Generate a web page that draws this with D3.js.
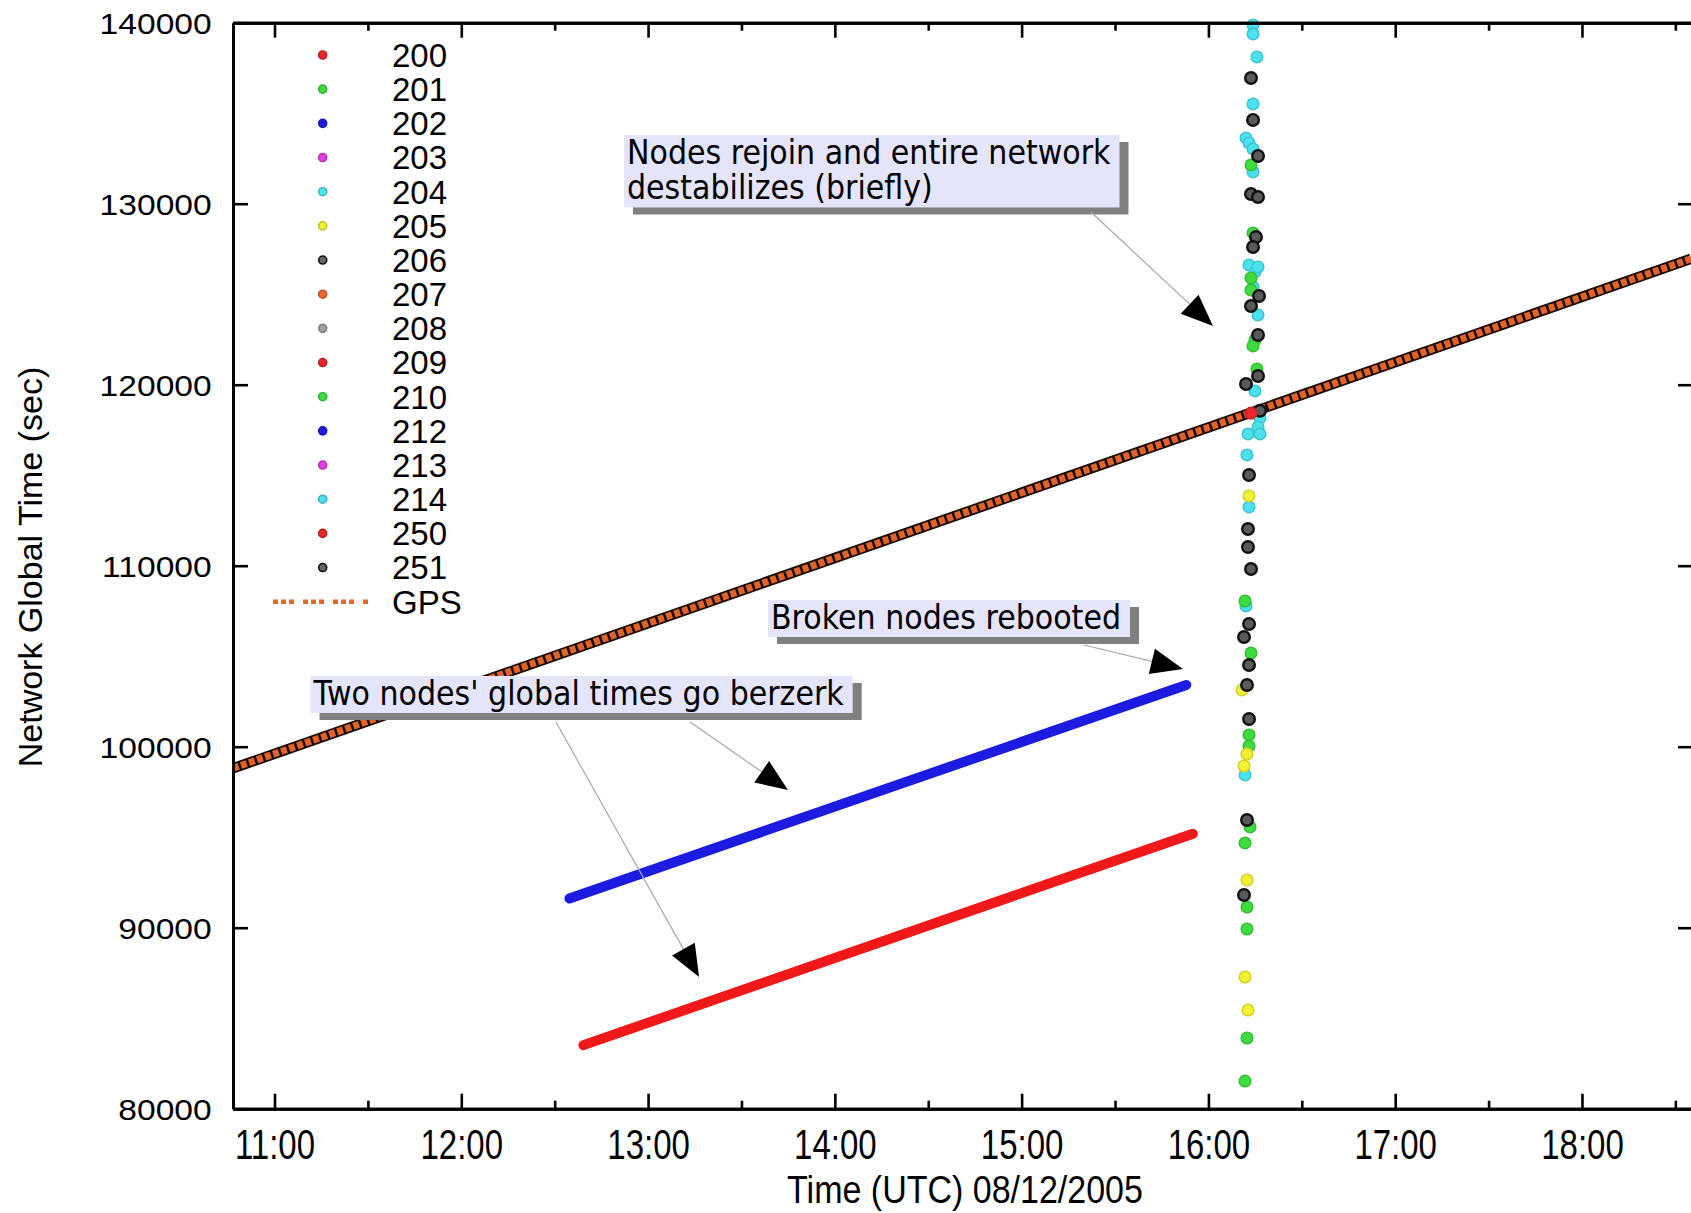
<!DOCTYPE html>
<html>
<head>
<meta charset="utf-8">
<script src="https://cdn.jsdelivr.net/npm/d3@7"></script>
<style>
  html, body { margin: 0; padding: 0; background: #ffffff; }
  svg { display: block; }
</style>
</head>
<body>
<svg id="chart" width="1691" height="1213"></svg>
<script>
// ---------------- DATA ----------------
const xTickLabels = ["11:00", "12:00", "13:00", "14:00", "15:00", "16:00", "17:00", "18:00"];
const xMinorLabels = ["11:30", "12:30", "13:30", "14:30", "15:30", "16:30", "17:30", "18:30"];
const xRange = ["10:46:40", "18:35:40"];
const yTickValues = [80000, 90000, 100000, 110000, 120000, 130000, 140000];
const legendNodes = ["200", "201", "202", "203", "204", "205", "206", "207", "208", "209", "210", "212", "213", "214", "250", "251"];

// GPS reference track (time, network global time in s)
const gpsTrack = [["10:46:40", 98807], ["18:35:02", 126957]];
// the two nodes that "go berzerk"
const node212Track = [["12:34:44", 91617], ["15:52:54", 103413]];
const node209Track = [["12:39:14", 83512], ["15:55:00", 95192]];

// burst of points when the nodes rejoin (~16:12)
const node204Burst = [["16:14:20",139874],["16:14:20",139377],["16:15:36",138106],["16:14:20",135510],["16:12:05",133631],["16:13:03",133355],["16:14:20",133023],["16:14:20",131753],["16:13:03",126614],["16:14:58",126228],["16:15:56",126504],["16:14:20",125399],["16:15:56",123852],["16:14:58",119653],["16:16:34",118161],["16:15:56",117664],["16:16:34",117277],["16:12:43",117277],["16:12:24",116117],["16:13:03",113244],["16:12:05",107774],["16:11:46",98437]];
const node201Burst = [["16:13:41",132139],["16:14:20",128382],["16:13:41",125896],["16:13:41",125233],["16:14:58",122471],["16:14:20",122139],["16:15:36",120868],["16:11:46",108050],["16:13:41",105177],["16:13:03",100647],["16:13:03",100039],["16:13:22",95564],["16:11:46",94680],["16:12:24",91144],["16:12:24",89928],["16:12:24",83906],["16:11:46",81530]];
const node205Burst = [["16:13:03",113852],["16:10:48",103133],["16:12:24",99597],["16:11:26",98934],["16:12:24",92636],["16:11:46",87276],["16:12:43",85453]];
const node251Burst = [["16:13:41",136946],["16:14:20",134626],["16:15:56",132637],["16:13:41",130537],["16:15:56",130371],["16:15:17",128161],["16:14:20",127609],["16:16:15",124902],["16:13:41",124349],["16:15:56",122747],["16:15:56",120482],["16:12:05",120040],["16:16:34",118560],["16:13:03",115012],["16:12:43",112028],["16:12:43",111034],["16:13:41",109818],["16:13:03",106780],["16:11:26",106061],["16:13:03",104514],["16:12:24",103409],["16:13:03",101531],["16:12:24",95951],["16:11:26",91807]];
const node200Burst = [["16:13:41",118430]];

const annotationTexts = [
  ["Nodes rejoin and entire network", "destabilizes (briefly)"],
  ["Broken nodes rebooted"],
  ["Two nodes' global times go berzerk"]
];

// ---------------- STYLE ----------------
const nodeColor = {
  "200": "#e8272a", "201": "#3edc3e", "202": "#1c1ce0", "203": "#e040e0", "204": "#4ae2ee",
  "205": "#f2f232", "206": "#333333", "207": "#e8683a", "208": "#a0a0a0", "209": "#e8272a",
  "210": "#3edc3e", "212": "#1c1ce0", "213": "#e040e0", "214": "#4ae2ee", "250": "#e8272a", "251": "#333333"
};
const sansFont = "'Liberation Sans', Arial, Helvetica, sans-serif";
const annFont = "'DejaVu Sans', Verdana, sans-serif";

const toH = s => { const p = s.split(":").map(Number); return p[0] + (p[1] || 0) / 60 + (p[2] || 0) / 3600; };

const svg = d3.select("#chart");
const L = 233, R = 1693, T = 22.7, B = 1108.7;

const x = d3.scaleLinear().domain(xRange.map(toH)).range([L, R]);
const y = d3.scaleLinear().domain([80000, 140000]).range([B, T]);

svg.append("rect").attr("width", 1691).attr("height", 1213).attr("fill", "#fff");

svg.append("defs").append("clipPath").attr("id", "plotclip")
  .append("rect").attr("x", L).attr("y", T).attr("width", R - L).attr("height", B - T);

// ---------------- LINES ----------------
const line = d3.line().x(d => x(toH(d[0]))).y(d => y(d[1]));
const plot = svg.append("g").attr("clip-path", "url(#plotclip)");

plot.append("path").datum(gpsTrack).attr("d", line)
  .attr("fill", "none").attr("stroke", "#1a0a00").attr("stroke-width", 10.5);
plot.append("path").datum(gpsTrack).attr("d", line)
  .attr("fill", "none").attr("stroke", "#e0642a").attr("stroke-width", 7)
  .attr("stroke-dasharray", "6 2.5");

plot.append("path").datum(node212Track).attr("d", line)
  .attr("fill", "none").attr("stroke", nodeColor["212"]).attr("stroke-width", 10)
  .attr("stroke-linecap", "round");
plot.append("path").datum(node209Track).attr("d", line)
  .attr("fill", "none").attr("stroke", "#f01818").attr("stroke-width", 10)
  .attr("stroke-linecap", "round");

// ---------------- BURST POINTS ----------------
function drawPoints(data, node) {
  const c = nodeColor[node];
  const isBlack = (node === "251" || node === "206");
  svg.append("g").selectAll("circle").data(data).join("circle")
    .attr("cx", d => x(toH(d[0]))).attr("cy", d => y(d[1])).attr("r", 5.8)
    .attr("fill", isBlack ? "#5a5a5a" : c)
    .attr("stroke", isBlack ? "#111" : d3.color(c).darker(0.4))
    .attr("stroke-width", isBlack ? 2.4 : 1.5);
}
drawPoints(node204Burst, "204");
drawPoints(node201Burst, "201");
drawPoints(node205Burst, "205");
drawPoints(node251Burst, "251");
drawPoints(node200Burst, "200");

// ---------------- AXES ----------------
const majorH = xTickLabels.map(toH), minorH = xMinorLabels.map(toH);
const fmtX = d3.scaleOrdinal().domain(majorH).range(xTickLabels);

function styleAxis(g) {
  g.attr("font-family", sansFont).attr("font-size", null);
  g.select(".domain").attr("stroke", "#000").attr("stroke-width", 3);
  g.selectAll(".tick line").attr("stroke", "#000").attr("stroke-width", 2.6);
}

// bottom
const gB = svg.append("g").attr("transform", `translate(0,${B})`)
  .call(d3.axisBottom(x).tickValues(majorH).tickSize(-15).tickSizeOuter(0).tickFormat(fmtX));
styleAxis(gB);
gB.selectAll(".tick text").attr("y", 0).attr("dy", 0).attr("font-size", 33).attr("fill", "#000")
  .attr("transform", "translate(0,50) scale(1,1.28)");
const gBm = svg.append("g").attr("transform", `translate(0,${B})`)
  .call(d3.axisBottom(x).tickValues(minorH.filter(h => h < x.domain()[1])).tickSize(-8).tickSizeOuter(0).tickFormat(""));
styleAxis(gBm);

// top
const gT = svg.append("g").attr("transform", `translate(0,${T})`)
  .call(d3.axisTop(x).tickValues(majorH).tickSize(-15).tickSizeOuter(0).tickFormat(""));
styleAxis(gT);
const gTm = svg.append("g").attr("transform", `translate(0,${T})`)
  .call(d3.axisTop(x).tickValues(minorH.filter(h => h < x.domain()[1])).tickSize(-8).tickSizeOuter(0).tickFormat(""));
styleAxis(gTm);

// left
const gL = svg.append("g").attr("transform", `translate(${L},0)`)
  .call(d3.axisLeft(y).tickValues(yTickValues).tickSize(-15).tickSizeOuter(0).tickFormat(d3.format("d")));
styleAxis(gL);
gL.selectAll(".tick text").attr("x", -19).attr("dy", "0.36em").attr("font-size", 30).attr("fill", "#000")
  .attr("transform", "scale(1.12,1)");

// right
const gR = svg.append("g").attr("transform", `translate(${R},0)`)
  .call(d3.axisRight(y).tickValues(yTickValues).tickSize(-15).tickSizeOuter(0).tickFormat(""));
styleAxis(gR);

// axis titles
svg.append("text").attr("transform", "translate(965,1203) scale(1,1.16)")
  .attr("text-anchor", "middle").attr("font-family", sansFont).attr("font-size", 34)
  .attr("fill", "#000").text("Time (UTC) 08/12/2005");
svg.append("text").attr("transform", "translate(42,567) rotate(-90)")
  .attr("text-anchor", "middle").attr("font-family", sansFont).attr("font-size", 34)
  .attr("fill", "#000").text("Network Global Time (sec)");

// ---------------- LEGEND ----------------
const legY0 = 55, legStep = 34.17, legMarkX = 322.7, legTextX = 392;
const leg = svg.append("g");
legendNodes.forEach((n, i) => {
  const cy = legY0 + i * legStep;
  const c = nodeColor[n];
  const isBlack = (n === "206" || n === "251");
  leg.append("circle").attr("cx", legMarkX).attr("cy", cy).attr("r", 4)
    .attr("fill", isBlack ? "#666" : c)
    .attr("stroke", isBlack ? "#111" : d3.color(c).darker(0.6)).attr("stroke-width", 1.6);
  leg.append("text").attr("x", legTextX).attr("y", cy).attr("dy", "0.36em")
    .attr("font-family", sansFont).attr("font-size", 33).attr("fill", "#000").text(n);
});
const gpsY = legY0 + legendNodes.length * legStep;
leg.append("line").attr("x1", 273).attr("x2", 369).attr("y1", gpsY).attr("y2", gpsY)
  .attr("stroke", "#e8642c").attr("stroke-width", 4.5).attr("stroke-dasharray", "5 3 5 3 5 9");
leg.append("text").attr("x", legTextX).attr("y", gpsY).attr("dy", "0.36em")
  .attr("font-family", sansFont).attr("font-size", 33).attr("fill", "#000").text("GPS");

// ---------------- ANNOTATIONS ----------------
const annLayout = [
  { box: ["12:52:16", 133797], arrows: [[["15:22:16", 129542], ["16:01:29", 123243]]] },
  { box: ["13:38:31", 108106], arrows: [[["15:20:02", 105620], ["15:51:50", 104294]]] },
  { box: ["11:11:35", 103906], arrows: [[["13:13:30", 101365], ["13:44:56", 97608]],
                                        [["12:30:25", 101365], ["13:16:23", 87276]]] }
];
const annG = svg.append("g");
annotationTexts.forEach((lines, i) => {
  const lay = annLayout[i];
  const bx = x(toH(lay.box[0])), by = y(lay.box[1]);
  const g = annG.append("g");
  const shadow = g.append("rect").attr("fill", "#808080");
  const bg = g.append("rect").attr("fill", "#e4e4fa");
  const tx = g.append("text")
    .attr("transform", `translate(${bx + 3},${by + 29}) scale(0.885,1)`)
    .attr("font-family", annFont).attr("font-size", 34).attr("fill", "#000");
  let maxW = 0;
  lines.forEach((t, k) => {
    const ts = tx.append("tspan").attr("x", 0).attr("y", k * 35).text(t);
    maxW = Math.max(maxW, ts.node().getComputedTextLength() * 0.885);
  });
  const w = maxW + 12, h = lines.length * 35.5 + 1.5;
  bg.attr("x", bx).attr("y", by).attr("width", w).attr("height", h);
  shadow.attr("x", bx + 9).attr("y", by + 7).attr("width", w).attr("height", h);
  lay.arrows.forEach(a => {
    const x1 = x(toH(a[0][0])), y1 = y(a[0][1]), x2 = x(toH(a[1][0])), y2 = y(a[1][1]);
    const ang = Math.atan2(y2 - y1, x2 - x1);
    const len = 32, hw = 13;
    const bxm = x2 - len * Math.cos(ang), bym = y2 - len * Math.sin(ang);
    annG.append("line").attr("x1", x1).attr("y1", y1).attr("x2", bxm).attr("y2", bym)
      .attr("stroke", "#a8a8a8").attr("stroke-width", 1.2);
    const px = -Math.sin(ang), py = Math.cos(ang);
    annG.append("path")
      .attr("d", `M${x2},${y2}L${bxm + hw * px},${bym + hw * py}L${bxm - hw * px},${bym - hw * py}Z`)
      .attr("fill", "#000");
  });
});
</script>
</body>
</html>
